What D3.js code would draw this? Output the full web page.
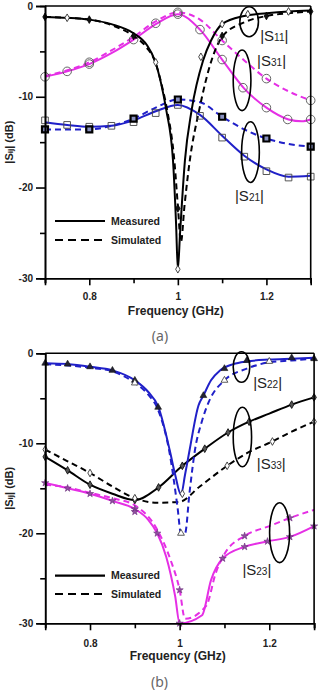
<!DOCTYPE html>
<html>
<head>
<meta charset="utf-8">
<script src="https://cdn.jsdelivr.net/npm/d3@7"></script>
<style>
  body { margin: 0; background: #fff; }
  svg { display: block; }
</style>
</head>
<body>
<svg id="chart" width="318" height="691"></svg>
<script>
// ---- data: [frequency GHz, |S| dB] ----
const xTicksMajor = [0.8, 1.0, 1.2];
const xTicksMinor = [0.7, 0.9, 1.1, 1.3];
const yTicksMajor = [0, -10, -20, -30];
const yTicksMinor = [-5, -15, -25];

// panel (a)
const s11Meas = [[0.7,-1.2],[0.75,-1.3],[0.8,-1.5],[0.85,-2.0],[0.9,-3.0],[0.93,-4.3],[0.948,-6.0],[0.962,-8.5],[0.974,-11.5],[0.989,-17],[0.996,-24],[1.0,-29],[1.005,-25],[1.016,-17],[1.031,-11.5],[1.057,-6.0],[1.075,-3.8],[1.1,-2.0],[1.15,-1.1],[1.2,-0.8],[1.25,-0.6],[1.3,-0.5]];
const s11Sim = [[0.7,-1.2],[0.75,-1.3],[0.8,-1.5],[0.85,-2.1],[0.9,-3.3],[0.93,-4.6],[0.95,-6.3],[0.965,-9],[0.976,-11.5],[0.992,-17],[1.0,-22],[1.007,-26],[1.015,-22],[1.027,-17],[1.048,-11.5],[1.076,-6.0],[1.1,-3.4],[1.15,-1.8],[1.2,-1.1],[1.25,-0.8],[1.3,-0.6]];
const s11MeasMarks = [[0.75,-1.3],[0.95,-6.2],[1.0,-29],[1.052,-5.6],[1.1,-2.0],[1.158,-0.9],[1.25,-0.6]];
const s11SimMarks = [[0.7,-1.2],[0.8,-1.5],[0.9,-3.3],[1.0,-22.3],[1.1,-3.3],[1.2,-1.1],[1.3,-0.6]];

const s31Meas = [[0.7,-7.8],[0.75,-7.2],[0.8,-6.4],[0.85,-5.2],[0.9,-3.7],[0.95,-2.0],[1.0,-0.9],[1.05,-2.6],[1.1,-5.9],[1.15,-9.1],[1.2,-11.2],[1.25,-12.5],[1.28,-12.7],[1.3,-12.5]];
const s31Sim = [[0.7,-7.7],[0.8,-6.2],[0.85,-4.9],[0.9,-3.4],[0.95,-1.7],[1.0,-0.7],[1.05,-1.5],[1.1,-3.8],[1.15,-6.0],[1.2,-8.0],[1.25,-9.4],[1.3,-10.4]];
const s31MeasMarks = [[0.7,-7.8],[0.75,-7.2],[0.8,-6.4],[0.9,-3.7],[1.0,-0.9],[1.05,-2.6],[1.1,-5.9],[1.147,-9.0],[1.2,-11.2],[1.248,-12.5],[1.3,-12.5]];
const s31SimMarks = [[0.8,-6.2],[0.95,-1.9],[1.0,-0.7],[1.1,-3.8],[1.2,-8.0],[1.3,-10.4]];

const s21Meas = [[0.7,-12.8],[0.75,-13.1],[0.8,-13.3],[0.85,-13.2],[0.9,-12.6],[0.95,-11.6],[1.0,-10.9],[1.05,-12.0],[1.1,-14.3],[1.15,-16.5],[1.2,-18.0],[1.25,-18.8],[1.3,-18.7]];
const s21Sim = [[0.7,-13.6],[0.8,-13.6],[0.85,-13.2],[0.9,-12.4],[0.95,-11.2],[1.0,-10.3],[1.05,-10.6],[1.1,-12.2],[1.15,-13.6],[1.2,-14.6],[1.25,-15.2],[1.3,-15.5]];
const s21MeasMarks = [[0.7,-12.6],[0.75,-13.1],[0.8,-13.3],[0.85,-13.2],[0.9,-12.8],[0.95,-11.8],[1.0,-10.9],[1.05,-12.1],[1.1,-14.5],[1.15,-16.6],[1.2,-18.2],[1.25,-18.9],[1.3,-18.8]];
const s21SimMarks = [[0.7,-13.6],[0.8,-13.6],[0.9,-12.4],[1.0,-10.3],[1.1,-12.2],[1.2,-14.6],[1.3,-15.5]];

// panel (b)
const s22Meas = [[0.7,-1.1],[0.75,-1.2],[0.8,-1.5],[0.85,-1.9],[0.9,-3.0],[0.93,-4.3],[0.952,-5.9],[0.978,-10.8],[0.99,-13.5],[1.003,-15.7],[1.012,-13.5],[1.022,-10.8],[1.042,-5.8],[1.053,-4.7],[1.07,-3.0],[1.09,-1.9],[1.12,-1.2],[1.15,-0.9],[1.2,-0.7],[1.25,-0.6],[1.3,-0.5]];
const s22Sim = [[0.7,-1.2],[0.8,-1.6],[0.85,-2.0],[0.9,-3.3],[0.93,-4.6],[0.952,-6.3],[0.978,-11.2],[0.995,-17],[1.003,-20],[1.012,-20],[1.022,-15.5],[1.034,-10.8],[1.05,-7.5],[1.065,-5.4],[1.1,-3.0],[1.15,-1.7],[1.2,-1.0],[1.25,-0.8],[1.3,-0.6]];
const s22MeasMarks = [[0.7,-1.1],[0.75,-1.2],[0.8,-1.5],[0.85,-1.9],[0.9,-3.0],[0.952,-6.0],[1.053,-4.7],[1.1,-1.7],[1.15,-0.8],[1.25,-0.5],[1.3,-0.6]];
const s22SimMarks = [[0.9,-3.3],[1.003,-20],[1.1,-3.0],[1.2,-0.9]];

const s33Meas = [[0.7,-11.5],[0.75,-13.0],[0.8,-14.6],[0.85,-15.6],[0.9,-16.3],[0.953,-14.9],[1.006,-12.5],[1.056,-10.6],[1.108,-8.8],[1.155,-7.6],[1.2,-6.7],[1.25,-5.7],[1.3,-4.9]];
const s33Sim = [[0.7,-10.7],[0.75,-12.0],[0.8,-13.3],[0.85,-14.8],[0.9,-16.1],[0.95,-16.6],[1.0,-16.5],[1.045,-14.8],[1.106,-12.5],[1.15,-11.1],[1.207,-9.8],[1.25,-8.7],[1.3,-7.6]];
const s33MeasMarks = [[0.7,-11.5],[0.75,-13.0],[0.8,-14.6],[0.9,-16.3],[0.953,-14.9],[1.006,-12.5],[1.056,-10.6],[1.108,-8.8],[1.155,-7.6],[1.25,-5.7],[1.3,-4.9]];
const s33SimMarks = [[0.7,-10.7],[0.8,-13.3],[0.9,-16.1],[1.006,-15.6],[1.106,-12.5],[1.207,-9.8],[1.3,-7.6]];

const s23Meas = [[0.7,-14.4],[0.75,-15.0],[0.8,-15.6],[0.85,-16.4],[0.9,-17.3],[0.93,-18.5],[0.95,-20.0],[0.97,-22.6],[0.99,-27],[1.0,-30],[1.05,-29.1],[1.07,-25.2],[1.096,-22.8],[1.145,-21.5],[1.196,-20.9],[1.246,-20.4],[1.3,-19.2]];
const s23Sim = [[0.7,-14.6],[0.75,-14.9],[0.8,-15.5],[0.85,-16.1],[0.9,-16.9],[0.95,-19.6],[0.98,-23],[1.0,-26.3],[1.012,-29.5],[1.06,-28],[1.08,-24.5],[1.1,-22.3],[1.145,-20.3],[1.2,-19.2],[1.246,-18.3],[1.3,-17.4]];
const s23MeasMarks = [[0.7,-14.4],[0.75,-15.0],[0.8,-15.6],[0.85,-16.4],[0.9,-17.3],[0.95,-20.0],[1.0,-30],[1.096,-22.8],[1.145,-21.5],[1.196,-20.9],[1.246,-20.4],[1.3,-19.2]];
const s23SimMarks = [[0.9,-17.6],[1.0,-26.3],[1.145,-20.3],[1.246,-18.3]];

const MAGENTA = "#e52fe5";
const BLUE = "#2020c8";

const svg = d3.select("#chart");

const markStyles = {
  diamondFill:  { type: d3.symbolDiamond,  size: 17, fill: "#111", stroke: "#000", sw: 0.8 },
  diamondOpen:  { type: d3.symbolDiamond,  size: 17, fill: "#fff", stroke: "#333", sw: 0.9 },
  diamondGrey:  { type: d3.symbolDiamond,  size: 17, fill: "#555", stroke: "#111", sw: 0.9 },
  diamondGreyO: { type: d3.symbolDiamond,  size: 17, fill: "#fff", stroke: "#333", sw: 0.9 },
  circle:       { type: d3.symbolCircle,   size: 58, fill: "none", stroke: "#555", sw: 0.9 },
  squareOpen:   { type: d3.symbolSquare,   size: 44, fill: "none", stroke: "#444", sw: 0.9 },
  squareFill:   { type: d3.symbolSquare,   size: 36, fill: "#8890c0", stroke: "#000", sw: 2.2 },
  triFill:      { type: d3.symbolTriangle, size: 20, fill: "#222233", stroke: "#111", sw: 0.6 },
  triOpen:      { type: d3.symbolTriangle, size: 20, fill: "#fff", stroke: "#333", sw: 0.8 },
  star:         { type: d3.symbolStar,     size: 16, fill: "#9050a0", stroke: "#6a2a7a", sw: 0.6 }
};

function drawPanel(cfg) {
  const x = d3.scaleLinear().domain([0.7, 1.3]).range([cfg.left, cfg.right]);
  const y = d3.scaleLinear().domain([-30, 0]).range([cfg.bottom, cfg.top]);
  const g = svg.append("g");

  const line = d3.line().x(d => x(d[0])).y(d => y(d[1])).curve(d3.curveMonotoneX);

  // curves
  cfg.series.forEach(s => {
    g.append("path")
      .attr("d", line(s.data))
      .attr("fill", "none")
      .attr("stroke", s.color)
      .attr("stroke-width", 2)
      .attr("stroke-dasharray", s.dashed ? "6,4" : null);
  });

  // markers
  cfg.series.forEach(s => {
    const st = markStyles[s.mark];
    g.append("g").selectAll("path")
      .data(s.marks)
      .enter()
      .append("path")
      .attr("transform", d => `translate(${x(d[0])},${y(d[1])})`)
      .attr("d", d3.symbol().type(st.type).size(st.size))
      .attr("fill", st.fill)
      .attr("stroke", st.stroke)
      .attr("stroke-width", st.sw);
  });

  // frame top and right
  g.append("line").attr("x1", cfg.left).attr("x2", cfg.right).attr("y1", cfg.top).attr("y2", cfg.top)
    .attr("stroke", "#000").attr("stroke-width", 1.6);
  g.append("line").attr("x1", cfg.right).attr("x2", cfg.right).attr("y1", cfg.top).attr("y2", cfg.bottom)
    .attr("stroke", "#000").attr("stroke-width", 1.6);

  // axes
  const styleAxis = a => {
    a.select(".domain").attr("stroke-width", 1.6);
    a.selectAll(".tick line").attr("stroke-width", 1.6);
    a.selectAll("text").style("font-family", "'Liberation Sans', Arial, sans-serif")
      .style("font-size", "10px").style("font-weight", "bold").attr("fill", "#222");
  };
  g.append("g").attr("transform", `translate(0,${cfg.bottom})`)
    .call(d3.axisBottom(x).tickValues(xTicksMinor).tickSize(5).tickFormat(""))
    .call(styleAxis);
  g.append("g").attr("transform", `translate(0,${cfg.bottom})`)
    .call(d3.axisBottom(x).tickValues(xTicksMajor).tickSize(7).tickPadding(cfg.xPad).tickFormat(d => d === 1 ? "1" : d3.format(".1f")(d)))
    .call(styleAxis);
  g.append("g").attr("transform", `translate(${cfg.left},0)`)
    .call(d3.axisLeft(y).tickValues(yTicksMinor).tickSize(5).tickFormat(""))
    .call(styleAxis);
  g.append("g").attr("transform", `translate(${cfg.left},0)`)
    .call(d3.axisLeft(y).tickValues(yTicksMajor).tickSize(9).tickPadding(3).tickFormat(d => String(d)))
    .call(styleAxis);

  // axis titles
  g.append("text")
    .attr("x", (cfg.left + cfg.right) / 2 - 2)
    .attr("y", cfg.bottom + cfg.titleGap)
    .attr("text-anchor", "middle")
    .style("font-family", "'Liberation Sans', Arial, sans-serif")
    .style("font-size", "12px").style("font-weight", "bold").attr("fill", "#222")
    .text("Frequency (GHz)");

  const yt = g.append("text")
    .attr("transform", `translate(13,${(cfg.top + cfg.bottom) / 2}) rotate(-90)`)
    .attr("text-anchor", "middle")
    .style("font-family", "'Liberation Sans', Arial, sans-serif")
    .style("font-size", "11px").style("font-weight", "bold").attr("fill", "#222");
  yt.append("tspan").text("|S");
  yt.append("tspan").style("font-size", "8px").text("ij");
  yt.append("tspan").text("| (dB)");

  // ellipses and labels
  cfg.notes.forEach(n => {
    g.append("ellipse")
      .attr("cx", x(n.f)).attr("cy", y(n.db))
      .attr("rx", x(n.f + n.df) - x(n.f))
      .attr("ry", y(n.db - n.ddb) - y(n.db))
      .attr("fill", "none").attr("stroke", "#000").attr("stroke-width", 1.6);
    const t = g.append("text")
      .attr("x", x(n.lf)).attr("y", y(n.ldb))
      .style("font-family", "'Liberation Sans', Arial, sans-serif")
      .style("font-size", "15px").attr("fill", "#222");
    t.append("tspan").text("|S");
    t.append("tspan").style("font-size", "10px").text(n.sub);
    t.append("tspan").text("|");
  });

  // legend
  const lg = g.append("g");
  [{ label: "Measured", dashed: false, dy: 0 }, { label: "Simulated", dashed: true, dy: cfg.legendStep }].forEach(item => {
    lg.append("line")
      .attr("x1", 55).attr("x2", 105)
      .attr("y1", cfg.legendY + item.dy).attr("y2", cfg.legendY + item.dy)
      .attr("stroke", "#000").attr("stroke-width", 2.2)
      .attr("stroke-dasharray", item.dashed ? "8,5" : null);
    lg.append("text")
      .attr("x", 111).attr("y", cfg.legendY + item.dy + 3.5)
      .style("font-family", "'Liberation Sans', Arial, sans-serif")
      .style("font-size", "10.5px").style("font-weight", "bold").attr("fill", "#222")
      .text(item.label);
  });

  // panel caption
  svg.append("text")
    .attr("x", cfg.capX).attr("y", cfg.capY)
    .attr("text-anchor", "middle")
    .style("font-family", "'Noto Sans', sans-serif")
    .style("font-size", "14px").attr("fill", "#666")
    .text(cfg.caption);
}

drawPanel({
  left: 45, right: 310.7, top: 6, bottom: 278.3, xPad: 8, titleGap: 37,
  legendY: 221, legendStep: 19, caption: "(a)", capX: 160, capY: 341,
  series: [
    { data: s31Meas, marks: s31MeasMarks, color: MAGENTA, dashed: false, mark: "circle" },
    { data: s31Sim, marks: s31SimMarks, color: MAGENTA, dashed: true, mark: "circle" },
    { data: s21Meas, marks: s21MeasMarks, color: BLUE, dashed: false, mark: "squareOpen" },
    { data: s21Sim, marks: s21SimMarks, color: BLUE, dashed: true, mark: "squareFill" },
    { data: s11Meas, marks: s11MeasMarks, color: "#000", dashed: false, mark: "diamondOpen" },
    { data: s11Sim, marks: s11SimMarks, color: "#000", dashed: true, mark: "diamondFill" }
  ],
  notes: [
    { f: 1.161, db: -1.73, df: 0.021, ddb: 1.65, lf: 1.186, ldb: -3.9, sub: "11" },
    { f: 1.145, db: -8.19, df: 0.02, ddb: 3.34, lf: 1.179, ldb: -6.6, sub: "31" },
    { f: 1.164, db: -16.1, df: 0.02, ddb: 3.34, lf: 1.129, ldb: -21.5, sub: "21" }
  ]
});

drawPanel({
  left: 45.2, right: 314.1, top: 353.3, bottom: 623.3, xPad: 10, titleGap: 37,
  legendY: 575.7, legendStep: 18.3, caption: "(b)", capX: 159.5, capY: 687,
  series: [
    { data: s33Meas, marks: s33MeasMarks, color: "#000", dashed: false, mark: "diamondGrey" },
    { data: s33Sim, marks: s33SimMarks, color: "#000", dashed: true, mark: "diamondGreyO" },
    { data: s23Meas, marks: s23MeasMarks, color: MAGENTA, dashed: false, mark: "star" },
    { data: s23Sim, marks: s23SimMarks, color: MAGENTA, dashed: true, mark: "star" },
    { data: s22Meas, marks: s22MeasMarks, color: BLUE, dashed: false, mark: "triFill" },
    { data: s22Sim, marks: s22SimMarks, color: BLUE, dashed: true, mark: "triOpen" }
  ],
  notes: [
    { f: 1.138, db: -1.52, df: 0.0185, ddb: 1.7, lf: 1.164, ldb: -3.86, sub: "22" },
    { f: 1.14, db: -9.3, df: 0.0205, ddb: 3.3, lf: 1.172, ldb: -12.86, sub: "33" },
    { f: 1.223, db: -19.93, df: 0.0223, ddb: 3.33, lf: 1.14, ldb: -24.6, sub: "23" }
  ]
});
</script>
</body>
</html>
